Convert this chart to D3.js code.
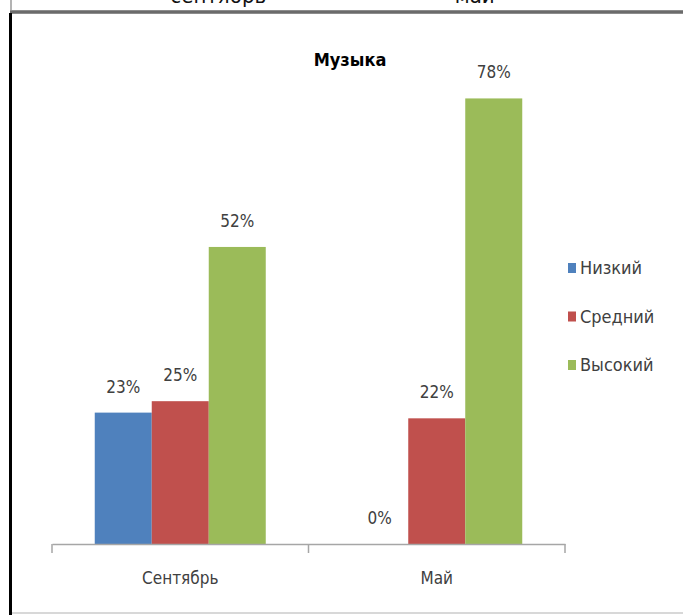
<!DOCTYPE html>
<html><head><meta charset="utf-8">
<script src="https://cdn.jsdelivr.net/npm/d3@7"></script>
<style>
html,body{margin:0;padding:0;background:#fff;}
svg{display:block;}
text{font-family:"Liberation Sans Narrow","DejaVu Sans Condensed","DejaVu Sans",sans-serif;font-stretch:condensed;}
</style></head><body>
<svg id="chart" width="683" height="615"></svg>
<script>
const title = "Музыка";
const categories = ["Сентябрь", "Май"];
const seriesNames = ["Низкий", "Средний", "Высокий"];
const seriesColors = ["#4F81BD", "#C0504D", "#9BBB59"];
const lowValues = [23, 0];
const midValues = [25, 22];
const highValues = [52, 78];
const seriesValues = [lowValues, midValues, highValues];

const svg = d3.select("#chart");

// frame remnants of the document table
svg.append("line").attr("x1",11).attr("x2",11).attr("y1",0).attr("y2",11).attr("stroke","#9a9a9a").attr("stroke-width",1.5);
svg.append("rect").attr("x",10).attr("y",10).attr("width",673).attr("height",4).attr("fill","#8c8c8c");
svg.append("line").attr("x1",10).attr("x2",683).attr("y1",12).attr("y2",12).attr("stroke","#4a4a4a").attr("stroke-width",1.2);
svg.append("rect").attr("x",9).attr("y",13).attr("width",3).attr("height",602).attr("fill","#000");
svg.append("line").attr("x1",12).attr("x2",683).attr("y1",613).attr("y2",613).attr("stroke","#d8d8d8").attr("stroke-width",2);

// clipped text from the table row above
const clip = svg.append("defs").append("clipPath").attr("id","topclip");
clip.append("rect").attr("x",12).attr("y",0).attr("width",671).attr("height",9);
const x = d3.scaleBand().domain(categories).range([52, 565]).paddingInner(0).paddingOuter(0);
svg.append("g").attr("clip-path","url(#topclip)")
  .selectAll("text").data(categories).join("text")
  .attr("x", d => x(d) + x.bandwidth()/2 + 38)
  .attr("y", 3)
  .attr("text-anchor","middle")
  .attr("font-size", 22)
  .attr("fill","#111")
  .text(d => d.toLowerCase());

const y = d3.scaleLinear().domain([0, 80]).range([544, 87]);
const xs = d3.scaleBand().domain(seriesNames).range([0, x.bandwidth()]).paddingInner(0).paddingOuter(0.75);

// title
svg.append("text").attr("x", 350).attr("y", 66).attr("text-anchor","middle")
  .attr("font-size", 18).attr("font-weight","bold").attr("fill","#000").text(title);

// bars
const data = [];
categories.forEach((c,i) => seriesNames.forEach((s,j) => data.push({c, s, j, v: seriesValues[j][i]})));
svg.append("g").selectAll("rect").data(data).join("rect")
  .attr("x", d => x(d.c) + xs(d.s))
  .attr("y", d => y(d.v))
  .attr("width", xs.bandwidth())
  .attr("height", d => y(0) - y(d.v))
  .attr("fill", d => seriesColors[d.j]);

// labels
svg.append("g").selectAll("text").data(data).join("text")
  .attr("x", d => x(d.c) + xs(d.s) + xs.bandwidth()/2)
  .attr("y", d => y(d.v) - 20)
  .attr("text-anchor","middle")
  .attr("font-size", 17)
  .attr("fill","#404040")
  .text(d => d.v + "%");

// axis
const axis = d3.axisBottom(x).tickSize(0).tickPadding(28);
const ag = svg.append("g").attr("transform","translate(0,544)").call(axis);
ag.select(".domain").attr("stroke","#a6a6a6").attr("stroke-width",1.5);
ag.selectAll("text").attr("font-size",17).attr("fill","#404040")
  .attr("font-family",'"Liberation Sans Narrow","DejaVu Sans Condensed","DejaVu Sans",sans-serif');
const bounds = categories.map(c => x(c)).concat([x(categories[categories.length-1]) + x.bandwidth()]);
ag.selectAll("line.bound").data(bounds).join("line").attr("class","bound")
  .attr("x1", d => d).attr("x2", d => d).attr("y1", 0).attr("y2", 9)
  .attr("stroke","#a6a6a6").attr("stroke-width",1.5);

// legend
const lg = svg.append("g").selectAll("g").data(seriesNames).join("g")
  .attr("transform", (d,i) => `translate(568, ${268 + i*48.5})`);
lg.append("rect").attr("x",0).attr("y",-5).attr("width",8).attr("height",10).attr("fill",(d,i)=>seriesColors[i]);
lg.append("text").attr("x",12).attr("y",6).attr("font-size",18).attr("fill","#404040").text(d=>d);
</script>
</body></html>
